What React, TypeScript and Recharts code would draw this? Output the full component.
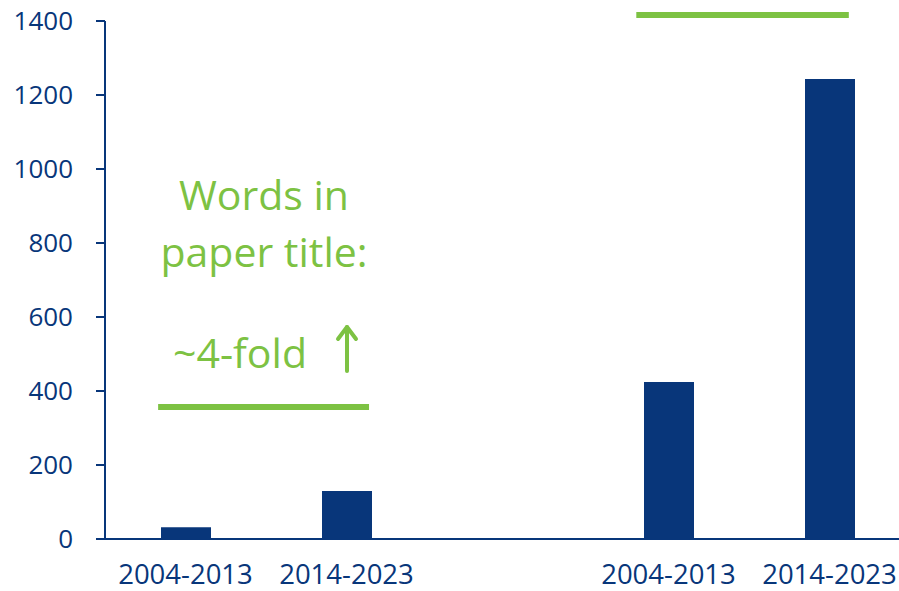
import React from "react";
import { BarChart, Bar, XAxis, YAxis, ReferenceLine } from "recharts";

const categories = ["2004-2013", "2014-2023", "", "2004-2013", "2014-2023"];
const counts: (number | null)[] = [32, 130, null, 424, 1243];
const slotCenters = [0.5, 1.5, 2.5, 3.5, 4.5];
const yTicks = [0, 200, 400, 600, 800, 1000, 1200, 1400];
const lowerBar = { from: 0.33, to: 1.64, value: 357 };
const upperBar = { from: 3.3, to: 4.62, value: 1416 };
const noteLines = ["Words in", "paper title:", "~4-fold"];

const data = categories.map((c, i) => ({ name: c, value: counts[i], pos: slotCenters[i] }));

const NAVY = "#08367A";
const GREEN = "#7DC243";
const FONT = "'Open Sans', sans-serif";

export default function App() {
  return (
    <div style={{ position: "absolute", left: 0, top: 0, width: 899, height: 591, overflow: "hidden", background: "#fff" }}>
      <BarChart width={920} height={591} data={data} margin={{ top: 21, right: 10, left: 0, bottom: 0 }}>
        <XAxis
          dataKey="name"
          xAxisId="cat"
          height={52}
          tickLine={false}
          tickSize={0}
          tickMargin={25}
          interval={0}
          axisLine={{ stroke: NAVY, strokeWidth: 2 }}
          tick={{ fill: NAVY, fontSize: 27.5, fontFamily: FONT }}
        />
        <XAxis xAxisId="pos" dataKey="pos" type="number" domain={[0, 5]} allowDataOverflow hide />
        <YAxis
          width={105}
          domain={[0, 1400]}
          ticks={yTicks}
          interval={0}
          tickSize={9}
          tickMargin={23}
          axisLine={{ stroke: NAVY, strokeWidth: 2 }}
          tickLine={{ stroke: NAVY, strokeWidth: 2 }}
          tick={{ fill: NAVY, fontSize: 26, fontFamily: FONT }}
        />
        <Bar dataKey="value" xAxisId="cat" fill={NAVY} barSize={50} isAnimationActive={false} />
        <ReferenceLine
          xAxisId="pos"
          ifOverflow="visible"
          segment={[
            { x: lowerBar.from, y: lowerBar.value },
            { x: lowerBar.to, y: lowerBar.value },
          ]}
          stroke={GREEN}
          strokeWidth={6}
        />
        <ReferenceLine
          xAxisId="pos"
          ifOverflow="visible"
          segment={[
            { x: upperBar.from, y: upperBar.value },
            { x: upperBar.to, y: upperBar.value },
          ]}
          stroke={GREEN}
          strokeWidth={6}
        />
      </BarChart>
      <svg width={899} height={591} style={{ position: "absolute", left: 0, top: 0, pointerEvents: "none" }}>
        <g fill={GREEN} fontFamily={FONT} fontSize={41}>
          <text x={264} y={210} textAnchor="middle">{noteLines[0]}</text>
          <text x={264} y={267} textAnchor="middle">{noteLines[1]}</text>
          <text x={240} y={368} textAnchor="middle">{noteLines[2]}</text>
        </g>
        <g stroke={GREEN} strokeWidth={4} strokeLinecap="round" strokeLinejoin="round" fill="none">
          <line x1={347} y1={371} x2={347} y2={327} />
          <polyline points="338,339 347,327 356,339" />
        </g>
      </svg>
    </div>
  );
}
